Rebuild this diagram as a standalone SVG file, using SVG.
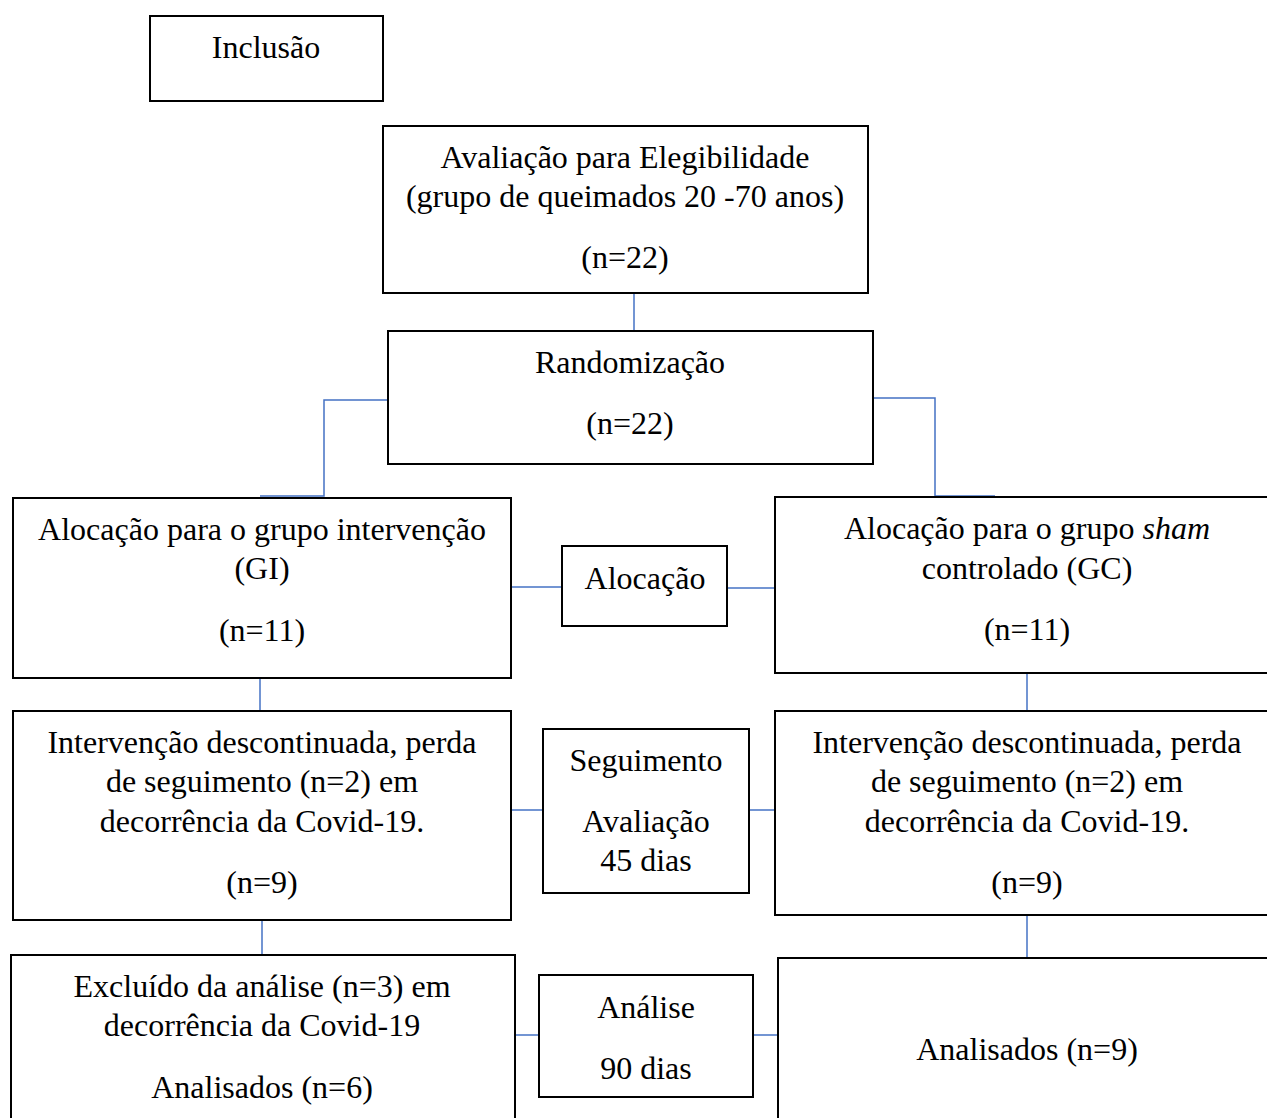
<svg xmlns="http://www.w3.org/2000/svg" width="1267" height="1118" viewBox="0 0 1267 1118">
<style>
.box{fill:#fff;stroke:#000;stroke-width:2}
.t{font-family:"Liberation Serif","Times New Roman",serif;font-size:32px;fill:#000;text-anchor:middle}
.c{fill:none;stroke:#4472C4;stroke-width:1.5}
</style>
<rect width="1267" height="1118" fill="#fff"/>
<g id="connectors">
<path class="c" d="M634 293V331"/>
<path class="c" d="M388 400H324V496H260"/>
<path class="c" d="M873 398H935V496H995"/>
<path class="c" d="M511 587H562"/>
<path class="c" d="M727 588H775"/>
<path class="c" d="M260 678V711"/>
<path class="c" d="M1027 673V711"/>
<path class="c" d="M511 810H543"/>
<path class="c" d="M749 810H775"/>
<path class="c" d="M262 920V955"/>
<path class="c" d="M1027 915V958"/>
<path class="c" d="M515 1035H539"/>
<path class="c" d="M753 1035H778"/>
</g>
<g id="inclusao">
<rect class="box" x="150" y="16" width="233" height="85"/>
<text class="t" x="266" y="58">Inclusão</text>
</g>
<g id="elegibilidade">
<rect class="box" x="383" y="126" width="485" height="167"/>
<text class="t" x="625" y="168">Avaliação para Elegibilidade</text>
<text class="t" x="625" y="207">(grupo de queimados 20 -70 anos)</text>
<text class="t" x="625" y="268">(n=22)</text>
</g>
<g id="randomizacao">
<rect class="box" x="388" y="331" width="485" height="133"/>
<text class="t" x="630" y="373">Randomização</text>
<text class="t" x="630" y="434">(n=22)</text>
</g>
<g id="gi">
<rect class="box" x="13" y="498" width="498" height="180"/>
<text class="t" x="262" y="540">Alocação para o grupo intervenção</text>
<text class="t" x="262" y="579">(GI)</text>
<text class="t" x="262" y="641">(n=11)</text>
</g>
<g id="alocacao">
<rect class="box" x="562" y="546" width="165" height="80"/>
<text class="t" x="645" y="589">Alocação</text>
</g>
<g id="gc">
<rect class="box" x="775" y="497" width="500" height="176"/>
<text class="t" x="1027" y="539">Alocação para o grupo <tspan font-style="italic">sham</tspan></text>
<text class="t" x="1027" y="579">controlado (GC)</text>
<text class="t" x="1027" y="640">(n=11)</text>
</g>
<g id="gi-seguimento">
<rect class="box" x="13" y="711" width="498" height="209"/>
<text class="t" x="262" y="753">Intervenção descontinuada, perda</text>
<text class="t" x="262" y="792">de seguimento (n=2) em</text>
<text class="t" x="262" y="832">decorrência da Covid-19.</text>
<text class="t" x="262" y="893">(n=9)</text>
</g>
<g id="seguimento">
<rect class="box" x="543" y="729" width="206" height="164"/>
<text class="t" x="646" y="771">Seguimento</text>
<text class="t" x="646" y="832">Avaliação</text>
<text class="t" x="646" y="871">45 dias</text>
</g>
<g id="gc-seguimento">
<rect class="box" x="775" y="711" width="500" height="204"/>
<text class="t" x="1027" y="753">Intervenção descontinuada, perda</text>
<text class="t" x="1027" y="792">de seguimento (n=2) em</text>
<text class="t" x="1027" y="832">decorrência da Covid-19.</text>
<text class="t" x="1027" y="893">(n=9)</text>
</g>
<g id="gi-analise">
<rect class="box" x="11" y="955" width="504" height="180"/>
<text class="t" x="262" y="997">Excluído da análise (n=3) em</text>
<text class="t" x="262" y="1036">decorrência da Covid-19</text>
<text class="t" x="262" y="1098">Analisados (n=6)</text>
</g>
<g id="analise">
<rect class="box" x="539" y="975" width="214" height="122"/>
<text class="t" x="646" y="1018">Análise</text>
<text class="t" x="646" y="1079">90 dias</text>
</g>
<g id="gc-analise">
<rect class="box" x="778" y="958" width="500" height="180"/>
<text class="t" x="1027" y="1060">Analisados (n=9)</text>
</g>
</svg>
